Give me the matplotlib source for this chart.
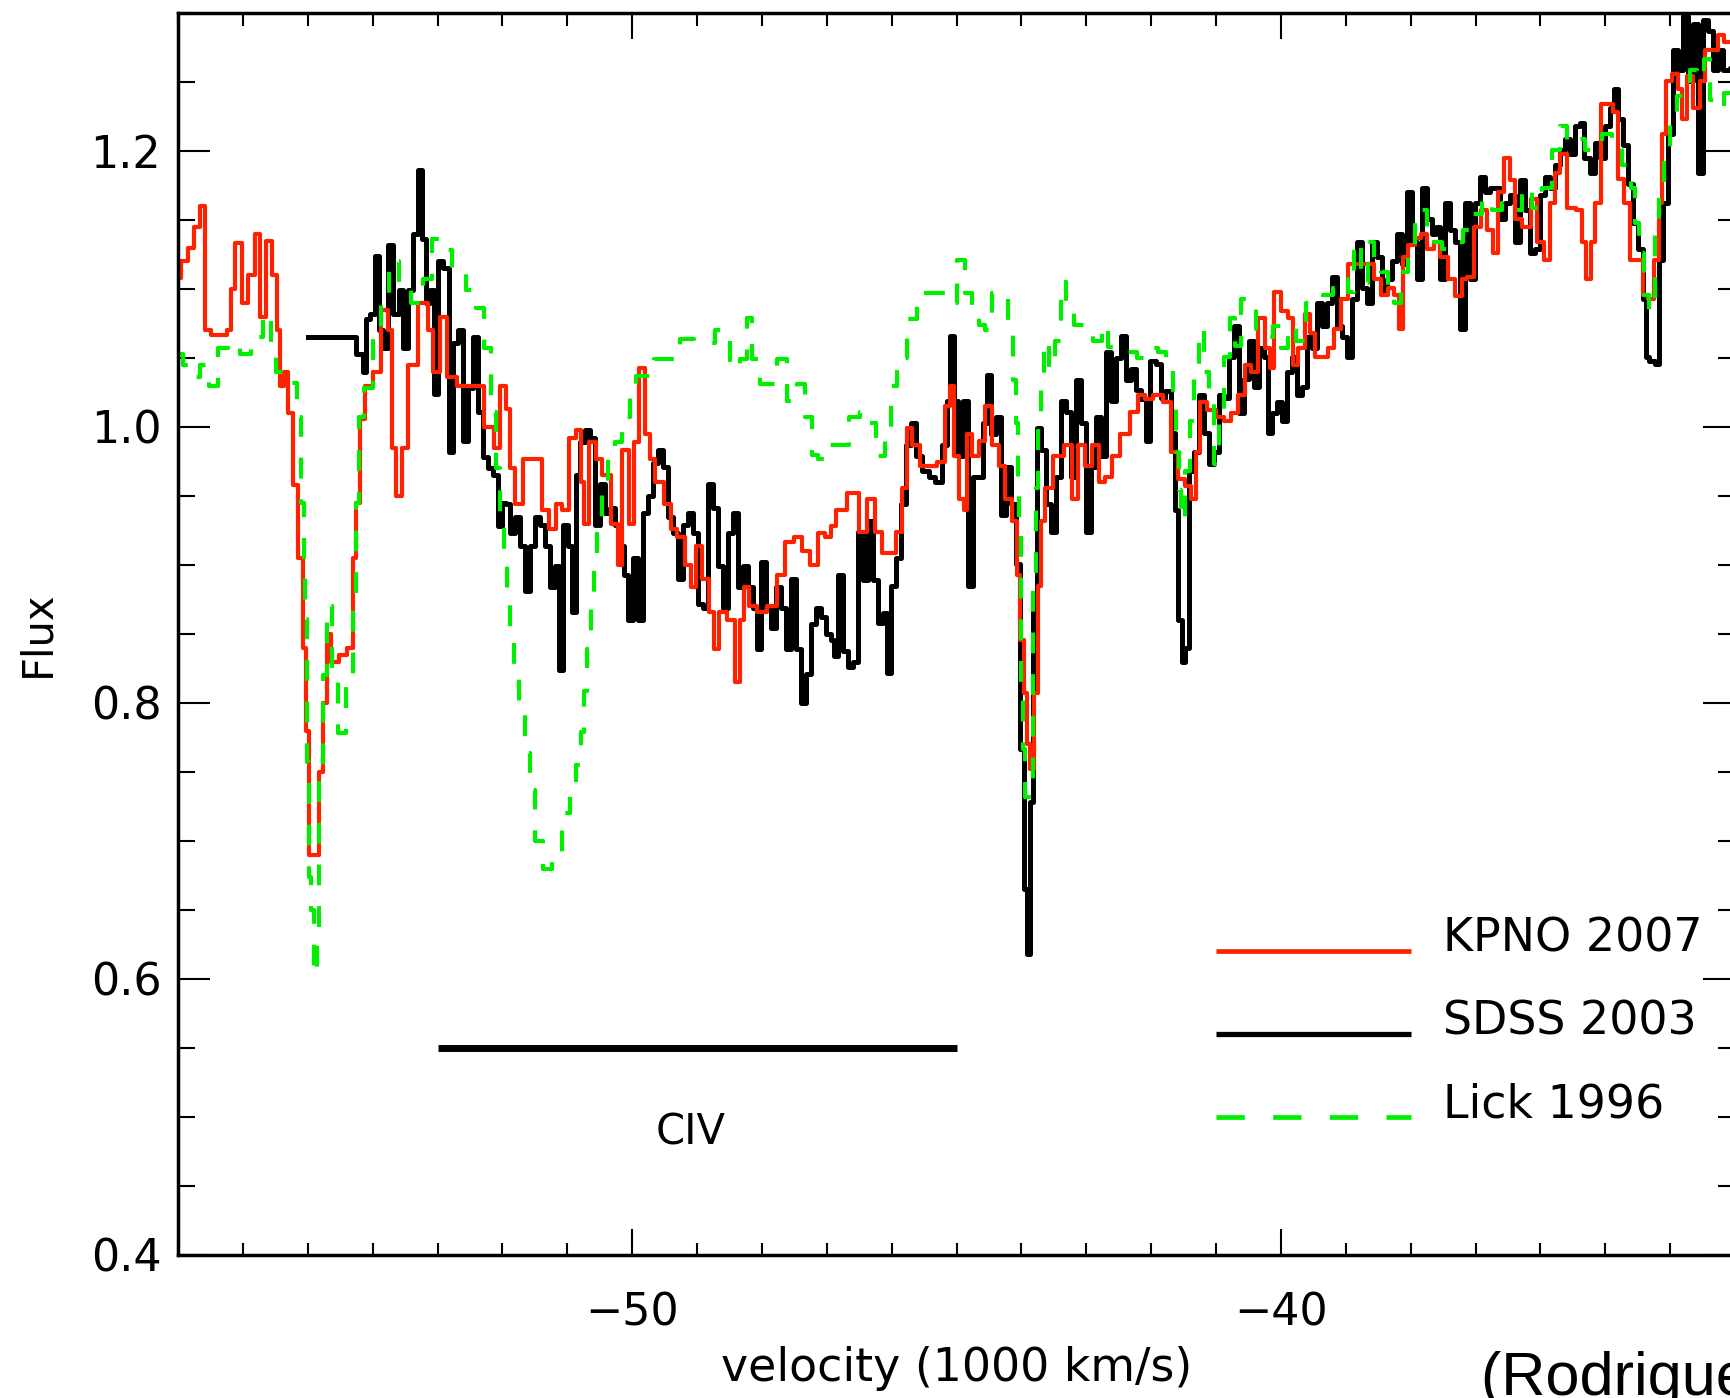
# CIV absorption trough: KPNO 2007 vs SDSS 2003 vs Lick 1996 spectra
import numpy as np
import matplotlib
matplotlib.use("Agg")
import matplotlib.pyplot as plt
from matplotlib.ticker import MultipleLocator, FormatStrFormatter

plt.rcParams['font.family'] = ['DejaVu Sans']

# (velocity in 1000 km/s, normalised flux)
kpno_pts = [
    (-57.0, 1.108), (-56.9, 1.12), (-56.8, 1.13), (-56.7, 1.145), (-56.62, 1.16), (-56.54, 1.07),
    (-56.45, 1.067), (-56.3, 1.067), (-56.2, 1.07), (-56.18, 1.10), (-56.05, 1.133), (-55.97, 1.09),
    (-55.87, 1.11), (-55.77, 1.14), (-55.7, 1.08), (-55.6, 1.135), (-55.5, 1.11), (-55.46, 1.07),
    (-55.4, 1.03), (-55.33, 1.04), (-55.27, 1.01), (-55.2, 0.958), (-55.1, 0.905), (-55.05, 0.84),
    (-55.0, 0.78), (-54.95, 0.69), (-54.85, 0.69), (-54.8, 0.75), (-54.74, 0.80), (-54.67, 0.85),
    (-54.6, 0.83), (-54.45, 0.835), (-54.33, 0.84), (-54.28, 0.905), (-54.23, 0.945), (-54.15, 1.006),
    (-54.08, 1.03), (-53.92, 1.04), (-53.82, 1.085), (-53.72, 1.07), (-53.67, 0.985), (-53.6, 0.95),
    (-53.5, 0.985), (-53.4, 1.045), (-53.2, 1.09), (-53.1, 1.07), (-53.03, 1.04), (-52.9, 1.08),
    (-52.8, 1.036), (-52.6, 1.03), (-52.4, 1.03), (-52.18, 1.0), (-52.08, 0.985), (-51.99, 1.03),
    (-51.9, 1.013), (-51.85, 0.97), (-51.75, 0.944), (-51.6, 0.977), (-51.45, 0.977), (-51.33, 0.94),
    (-51.23, 0.926), (-51.13, 0.944), (-51.02, 0.94), (-50.92, 0.992), (-50.82, 0.998), (-50.77, 0.96),
    (-50.72, 0.93), (-50.61, 0.989), (-50.51, 0.977), (-50.41, 0.965), (-50.25, 0.93), (-50.2, 0.9),
    (-50.1, 0.983), (-50.0, 0.93), (-49.95, 0.989), (-49.84, 1.043), (-49.77, 0.995), (-49.69, 0.977),
    (-49.59, 0.96), (-49.43, 0.944), (-49.38, 0.926), (-49.23, 0.92), (-49.13, 0.9), (-49.07, 0.884),
    (-48.97, 0.914), (-48.87, 0.89), (-48.77, 0.866), (-48.72, 0.839), (-48.61, 0.866), (-48.46, 0.86),
    (-48.38, 0.815), (-48.3, 0.86), (-48.26, 0.884), (-48.15, 0.87), (-48.0, 0.866), (-47.85, 0.87),
    (-47.69, 0.893), (-47.59, 0.917), (-47.43, 0.92), (-47.33, 0.91), (-47.18, 0.9), (-47.08, 0.923),
    (-46.97, 0.92), (-46.91, 0.928), (-46.81, 0.94), (-46.56, 0.952), (-46.45, 0.924), (-46.3, 0.948),
    (-46.2, 0.924), (-46.1, 0.909), (-45.99, 0.909), (-45.89, 0.924), (-45.79, 0.956), (-45.74, 0.999),
    (-45.63, 0.987), (-45.48, 0.972), (-45.38, 0.972), (-45.22, 0.975), (-45.12, 1.015), (-45.07, 1.03),
    (-45.0, 0.979), (-44.92, 0.948), (-44.86, 0.94), (-44.81, 0.995), (-44.71, 0.979), (-44.61, 0.99),
    (-44.5, 1.015), (-44.4, 0.987), (-44.3, 0.972), (-44.2, 0.948), (-44.1, 0.932), (-44.04, 0.893),
    (-43.99, 0.846), (-43.94, 0.807), (-43.89, 0.77), (-43.84, 0.752), (-43.76, 0.807), (-43.73, 0.885),
    (-43.68, 0.932), (-43.58, 0.956), (-43.43, 0.979), (-43.27, 0.987), (-43.17, 0.948), (-43.07, 0.987),
    (-42.97, 0.972), (-42.86, 0.987), (-42.76, 0.96), (-42.66, 0.964), (-42.56, 0.979), (-42.4, 0.995),
    (-42.25, 1.011), (-42.15, 1.023), (-42.05, 1.02), (-41.89, 1.023), (-41.74, 1.018), (-41.64, 0.982),
    (-41.53, 0.962), (-41.43, 0.957), (-41.35, 0.948), (-41.28, 0.982), (-41.2, 1.018), (-41.07, 1.012),
    (-40.92, 1.007), (-40.82, 1.004), (-40.71, 1.01), (-40.61, 1.023), (-40.51, 1.045), (-40.41, 1.04),
    (-40.3, 1.079), (-40.2, 1.057), (-40.15, 1.043), (-40.05, 1.098), (-39.94, 1.084), (-39.84, 1.079),
    (-39.79, 1.045), (-39.69, 1.057), (-39.58, 1.082), (-39.53, 1.068), (-39.43, 1.051), (-39.33, 1.051),
    (-39.23, 1.057), (-39.12, 1.071), (-39.02, 1.093), (-38.92, 1.118), (-38.82, 1.118), (-38.71, 1.118),
    (-38.61, 1.118), (-38.51, 1.107), (-38.41, 1.096), (-38.3, 1.101), (-38.2, 1.096), (-38.15, 1.071),
    (-38.1, 1.123), (-37.99, 1.132), (-37.89, 1.137), (-37.79, 1.14), (-37.69, 1.129), (-37.6, 1.134),
    (-37.48, 1.123), (-37.38, 1.107), (-37.25, 1.095), (-37.18, 1.107), (-37.07, 1.109), (-36.97, 1.145),
    (-36.87, 1.157), (-36.77, 1.143), (-36.69, 1.126), (-36.61, 1.17), (-36.51, 1.195), (-36.43, 1.179),
    (-36.36, 1.151), (-36.2, 1.145), (-36.1, 1.165), (-35.99, 1.134), (-35.89, 1.121), (-35.82, 1.162),
    (-35.74, 1.184), (-35.64, 1.198), (-35.53, 1.159), (-35.38, 1.157), (-35.33, 1.134), (-35.25, 1.107),
    (-35.2, 1.134), (-35.12, 1.162), (-35.02, 1.234), (-34.92, 1.234), (-34.84, 1.228), (-34.77, 1.18),
    (-34.66, 1.162), (-34.59, 1.121), (-34.46, 1.121), (-34.38, 1.096), (-34.3, 1.093), (-34.2, 1.121),
    (-34.15, 1.162), (-34.1, 1.212), (-34.02, 1.251), (-33.92, 1.256), (-33.84, 1.245), (-33.79, 1.223),
    (-33.69, 1.254), (-33.59, 1.231), (-33.48, 1.251), (-33.43, 1.273), (-33.28, 1.273), (-33.23, 1.284),
    (-33.12, 1.279), (-33.0, 1.27),
]

sdss_pts = [
    (-55.0, 1.065), (-54.33, 1.065), (-54.18, 1.053), (-54.13, 1.04), (-54.08, 1.078), (-54.0, 1.082),
    (-53.92, 1.124), (-53.87, 1.07), (-53.8, 1.057), (-53.72, 1.132), (-53.64, 1.082), (-53.56, 1.099),
    (-53.49, 1.057), (-53.41, 1.099), (-53.33, 1.14), (-53.28, 1.186), (-53.2, 1.136), (-53.15, 1.09),
    (-53.08, 1.099), (-53.03, 1.024), (-52.95, 1.12), (-52.87, 1.115), (-52.79, 0.982), (-52.72, 1.061),
    (-52.64, 1.07), (-52.56, 0.99), (-52.49, 1.028), (-52.41, 1.065), (-52.33, 1.011), (-52.26, 0.978),
    (-52.18, 0.97), (-52.1, 0.965), (-52.05, 0.928), (-51.97, 0.945), (-51.92, 0.944), (-51.85, 0.923),
    (-51.77, 0.935), (-51.69, 0.914), (-51.61, 0.881), (-51.54, 0.914), (-51.46, 0.935), (-51.38, 0.929),
    (-51.31, 0.914), (-51.23, 0.884), (-51.15, 0.899), (-51.1, 0.824), (-51.02, 0.929), (-50.95, 0.914),
    (-50.9, 0.866), (-50.84, 0.965), (-50.77, 0.989), (-50.69, 0.998), (-50.61, 0.992), (-50.54, 0.929),
    (-50.46, 0.959), (-50.38, 0.938), (-50.31, 0.941), (-50.23, 0.929), (-50.15, 0.914), (-50.1, 0.893),
    (-50.02, 0.86), (-49.95, 0.905), (-49.87, 0.86), (-49.79, 0.938), (-49.72, 0.95), (-49.64, 0.974),
    (-49.56, 0.983), (-49.49, 0.971), (-49.41, 0.935), (-49.33, 0.923), (-49.26, 0.89), (-49.18, 0.929),
    (-49.1, 0.938), (-49.02, 0.923), (-48.95, 0.872), (-48.87, 0.869), (-48.79, 0.959), (-48.72, 0.941),
    (-48.64, 0.899), (-48.56, 0.869), (-48.49, 0.923), (-48.41, 0.938), (-48.33, 0.884), (-48.26, 0.899),
    (-48.18, 0.884), (-48.1, 0.869), (-48.05, 0.839), (-47.97, 0.902), (-47.9, 0.869), (-47.82, 0.854),
    (-47.74, 0.884), (-47.67, 0.869), (-47.59, 0.839), (-47.51, 0.89), (-47.43, 0.839), (-47.36, 0.80),
    (-47.28, 0.821), (-47.2, 0.857), (-47.13, 0.869), (-47.05, 0.862), (-46.97, 0.85), (-46.91, 0.846),
    (-46.86, 0.834), (-46.79, 0.893), (-46.71, 0.838), (-46.63, 0.826), (-46.56, 0.83), (-46.48, 0.924),
    (-46.4, 0.889), (-46.33, 0.932), (-46.25, 0.889), (-46.17, 0.858), (-46.09, 0.865), (-46.04, 0.822),
    (-45.97, 0.885), (-45.89, 0.905), (-45.81, 0.944), (-45.74, 0.987), (-45.66, 1.003), (-45.58, 0.979),
    (-45.48, 0.968), (-45.38, 0.964), (-45.27, 0.96), (-45.17, 0.987), (-45.12, 1.019), (-45.07, 1.066),
    (-45.02, 1.019), (-44.94, 0.979), (-44.86, 1.019), (-44.79, 0.885), (-44.71, 0.964), (-44.63, 0.964),
    (-44.56, 1.003), (-44.5, 1.038), (-44.43, 0.995), (-44.35, 1.007), (-44.27, 0.936), (-44.2, 0.971),
    (-44.12, 0.944), (-44.04, 0.901), (-43.99, 0.767), (-43.94, 0.665), (-43.89, 0.618), (-43.84, 0.728),
    (-43.79, 0.873), (-43.73, 0.999), (-43.66, 0.983), (-43.58, 0.944), (-43.5, 0.924), (-43.43, 0.964),
    (-43.35, 1.019), (-43.27, 1.011), (-43.2, 0.964), (-43.12, 1.034), (-43.04, 1.003), (-42.97, 0.924),
    (-42.89, 0.971), (-42.81, 1.007), (-42.74, 0.979), (-42.66, 1.054), (-42.58, 1.019), (-42.5, 1.05),
    (-42.43, 1.066), (-42.35, 1.034), (-42.27, 1.042), (-42.2, 1.027), (-42.12, 1.02), (-42.05, 0.99),
    (-41.97, 1.048), (-41.89, 1.046), (-41.82, 1.021), (-41.74, 1.026), (-41.66, 0.996), (-41.61, 0.94),
    (-41.56, 0.86), (-41.5, 0.83), (-41.45, 0.84), (-41.38, 0.968), (-41.3, 0.982), (-41.23, 1.023),
    (-41.15, 0.996), (-41.07, 0.973), (-40.99, 0.982), (-40.92, 1.023), (-40.84, 1.021), (-40.76, 1.051),
    (-40.69, 1.073), (-40.61, 1.01), (-40.53, 1.035), (-40.46, 1.062), (-40.38, 1.029), (-40.3, 1.057),
    (-40.23, 1.051), (-40.17, 0.996), (-40.1, 1.01), (-40.02, 1.018), (-39.94, 1.004), (-39.87, 1.04),
    (-39.79, 1.051), (-39.71, 1.023), (-39.64, 1.029), (-39.56, 1.065), (-39.48, 1.057), (-39.41, 1.09),
    (-39.33, 1.073), (-39.25, 1.09), (-39.17, 1.109), (-39.1, 1.073), (-39.02, 1.065), (-38.94, 1.051),
    (-38.87, 1.093), (-38.79, 1.134), (-38.71, 1.101), (-38.64, 1.09), (-38.56, 1.134), (-38.48, 1.123),
    (-38.41, 1.098), (-38.33, 1.107), (-38.25, 1.12), (-38.17, 1.14), (-38.1, 1.118), (-38.02, 1.17),
    (-37.94, 1.134), (-37.87, 1.107), (-37.79, 1.173), (-37.71, 1.151), (-37.64, 1.14), (-37.59, 1.145),
    (-37.51, 1.107), (-37.43, 1.162), (-37.36, 1.143), (-37.28, 1.134), (-37.2, 1.071), (-37.12, 1.162),
    (-37.05, 1.107), (-36.97, 1.162), (-36.89, 1.181), (-36.82, 1.17), (-36.74, 1.173), (-36.66, 1.173),
    (-36.59, 1.151), (-36.51, 1.162), (-36.43, 1.168), (-36.36, 1.134), (-36.28, 1.179), (-36.2, 1.157),
    (-36.12, 1.126), (-36.05, 1.129), (-35.97, 1.168), (-35.89, 1.181), (-35.82, 1.173), (-35.74, 1.19),
    (-35.66, 1.201), (-35.59, 1.209), (-35.51, 1.198), (-35.43, 1.218), (-35.36, 1.22), (-35.28, 1.195),
    (-35.2, 1.184), (-35.12, 1.206), (-35.05, 1.195), (-34.97, 1.218), (-34.89, 1.231), (-34.84, 1.245),
    (-34.77, 1.223), (-34.69, 1.204), (-34.61, 1.176), (-34.54, 1.148), (-34.46, 1.129), (-34.38, 1.093),
    (-34.36, 1.051), (-34.28, 1.048), (-34.2, 1.046), (-34.15, 1.121), (-34.07, 1.162), (-34.0, 1.212),
    (-33.92, 1.273), (-33.84, 1.259), (-33.77, 1.298), (-33.69, 1.251), (-33.61, 1.292), (-33.54, 1.184),
    (-33.46, 1.295), (-33.38, 1.287), (-33.3, 1.259), (-33.23, 1.273), (-33.15, 1.259), (-33.0, 1.26),
]

lick_pts = [
    (-57.0, 1.053), (-56.85, 1.045), (-56.72, 1.036), (-56.59, 1.045), (-56.44, 1.03), (-56.33, 1.057),
    (-56.13, 1.061), (-55.97, 1.053), (-55.77, 1.065), (-55.62, 1.082), (-55.51, 1.061), (-55.46, 1.04),
    (-55.31, 1.04), (-55.2, 1.032), (-55.13, 1.007), (-55.08, 0.945), (-55.05, 0.903), (-55.03, 0.861),
    (-55.0, 0.757), (-54.97, 0.674), (-54.93, 0.65), (-54.88, 0.603), (-54.84, 0.632), (-54.8, 0.745),
    (-54.74, 0.82), (-54.67, 0.87), (-54.59, 0.82), (-54.49, 0.778), (-54.33, 0.82), (-54.28, 0.878),
    (-54.23, 0.945), (-54.18, 1.007), (-54.08, 1.028), (-53.92, 1.07), (-53.82, 1.095), (-53.67, 1.12),
    (-53.51, 1.099), (-53.31, 1.09), (-53.15, 1.107), (-53.03, 1.136), (-52.9, 1.128), (-52.64, 1.115),
    (-52.49, 1.099), (-52.33, 1.086), (-52.23, 1.057), (-52.13, 1.011), (-52.08, 0.97), (-52.0, 0.936),
    (-51.95, 0.9), (-51.9, 0.881), (-51.85, 0.851), (-51.79, 0.821), (-51.69, 0.794), (-51.61, 0.764),
    (-51.54, 0.737), (-51.45, 0.70), (-51.31, 0.68), (-51.15, 0.69), (-51.0, 0.72), (-50.9, 0.74),
    (-50.82, 0.755), (-50.77, 0.779), (-50.72, 0.809), (-50.67, 0.839), (-50.61, 0.869), (-50.56, 0.899),
    (-50.51, 0.929), (-50.41, 0.953), (-50.33, 0.983), (-50.2, 0.989), (-50.1, 1.007), (-49.97, 1.025),
    (-49.9, 1.037), (-49.74, 1.037), (-49.59, 1.049), (-49.38, 1.049), (-49.13, 1.064), (-48.97, 1.061),
    (-48.87, 1.061), (-48.56, 1.07), (-48.41, 1.043), (-48.26, 1.049), (-48.2, 1.079), (-48.1, 1.049),
    (-47.95, 1.031), (-47.85, 1.031), (-47.69, 1.049), (-47.54, 1.019), (-47.38, 1.031), (-47.28, 1.007),
    (-47.18, 0.98), (-47.08, 0.977), (-46.91, 0.987), (-46.76, 0.987), (-46.56, 1.007), (-46.4, 1.011),
    (-46.3, 1.003), (-46.17, 0.979), (-46.04, 0.995), (-45.99, 1.03), (-45.84, 1.05), (-45.68, 1.078),
    (-45.53, 1.097), (-45.38, 1.097), (-45.22, 1.097), (-45.07, 1.09), (-44.92, 1.121), (-44.81, 1.097),
    (-44.71, 1.081), (-44.61, 1.074), (-44.5, 1.07), (-44.4, 1.097), (-44.25, 1.097), (-44.15, 1.074),
    (-44.1, 1.034), (-44.07, 1.003), (-44.04, 0.964), (-44.02, 0.924), (-43.99, 0.807), (-43.97, 0.767),
    (-43.92, 0.732), (-43.84, 0.732), (-43.79, 0.885), (-43.76, 0.956), (-43.73, 1.003), (-43.68, 1.038),
    (-43.63, 1.062), (-43.53, 1.042), (-43.43, 1.062), (-43.35, 1.105), (-43.27, 1.085), (-43.12, 1.074),
    (-42.97, 1.074), (-42.81, 1.062), (-42.71, 1.074), (-42.61, 1.058), (-42.45, 1.054), (-42.3, 1.054),
    (-42.15, 1.05), (-42.04, 1.057), (-41.94, 1.057), (-41.84, 1.054), (-41.69, 1.048), (-41.64, 1.018),
    (-41.58, 0.982), (-41.56, 0.954), (-41.53, 0.932), (-41.43, 0.968), (-41.38, 1.004), (-41.3, 1.04),
    (-41.23, 1.071), (-41.15, 1.04), (-41.07, 1.023), (-40.99, 0.973), (-40.92, 1.007), (-40.82, 1.051),
    (-40.76, 1.079), (-40.66, 1.059), (-40.56, 1.093), (-40.46, 1.09), (-40.3, 1.071), (-40.2, 1.065),
    (-40.05, 1.073), (-39.94, 1.057), (-39.84, 1.073), (-39.69, 1.062), (-39.53, 1.09), (-39.43, 1.093),
    (-39.28, 1.096), (-39.12, 1.101), (-39.02, 1.107), (-38.92, 1.098), (-38.82, 1.134), (-38.71, 1.104),
    (-38.61, 1.134), (-38.51, 1.12), (-38.41, 1.112), (-38.3, 1.098), (-38.2, 1.09), (-38.1, 1.112),
    (-37.99, 1.129), (-37.89, 1.151), (-37.79, 1.157), (-37.69, 1.145), (-37.59, 1.134), (-37.43, 1.129),
    (-37.28, 1.134), (-37.12, 1.143), (-36.97, 1.154), (-36.82, 1.165), (-36.66, 1.157), (-36.51, 1.162),
    (-36.36, 1.157), (-36.2, 1.173), (-36.05, 1.159), (-35.89, 1.173), (-35.74, 1.201), (-35.64, 1.218),
    (-35.53, 1.206), (-35.38, 1.209), (-35.23, 1.201), (-35.12, 1.204), (-34.97, 1.212), (-34.82, 1.206),
    (-34.66, 1.19), (-34.56, 1.173), (-34.51, 1.148), (-34.46, 1.126), (-34.36, 1.096), (-34.28, 1.084),
    (-34.2, 1.145), (-34.15, 1.176), (-34.05, 1.195), (-33.94, 1.223), (-33.84, 1.24), (-33.74, 1.251),
    (-33.64, 1.259), (-33.54, 1.253), (-33.43, 1.267), (-33.33, 1.237), (-33.23, 1.231), (-33.12, 1.242),
    (-33.0, 1.24),
]

# CIV trough marker and legend entries
civ_range = (-53.0, -45.0)
civ_level = 0.55
labels = ['KPNO 2007', 'SDSS 2003', 'Lick 1996']
legend_levels = [0.62, 0.56, 0.50]

kpno_v, kpno_f = np.array(kpno_pts).T
sdss_v, sdss_f = np.array(sdss_pts).T
lick_v, lick_f = np.array(lick_pts).T

red = '#ff2200'
green = '#00ee00'

fig = plt.figure(figsize=(17.31, 13.98), dpi=100)
# the right spine sits just past the cropped edge of the original
ax = fig.add_axes([178 / 1731, 1 - 1255 / 1398, (1735 - 178) / 1731, (1255 - 13) / 1398])

ax.plot(sdss_v, sdss_f, color='black', lw=3.6, drawstyle='steps-mid')
ax.plot(kpno_v, kpno_f, color=red, lw=3.0, drawstyle='steps-mid')
ax.plot(lick_v, lick_f, color=green, lw=3.0, drawstyle='steps-mid', dashes=(5, 5))

# CIV bar
ax.plot(civ_range, [civ_level, civ_level], color='black', lw=5, solid_capstyle='butt')
ax.text(np.mean(civ_range) - 0.1, 0.489, 'CIV', fontsize=30, ha='center', va='center')

# hand made legend like the IDL original
styles = [dict(color=red, lw=3.4), dict(color='black', lw=3.8), dict(color=green, lw=3.4, dashes=(6, 6))]
for lab, lev, st in zip(labels, legend_levels, styles):
    ax.plot([-41.0, -38.0], [lev, lev], solid_capstyle='butt', **st)
    ax.text(-37.5, lev, lab, fontsize=33, ha='left', va='baseline')

ax.set_xlim(-57, -33)
ax.set_ylim(0.4, 1.3)

ax.xaxis.set_major_locator(MultipleLocator(10))
ax.xaxis.set_minor_locator(MultipleLocator(1))
ax.yaxis.set_major_locator(MultipleLocator(0.2))
ax.yaxis.set_minor_locator(MultipleLocator(0.05))
ax.yaxis.set_major_formatter(FormatStrFormatter('%.1f'))

ax.tick_params(which='both', direction='in', top=True, right=True, width=1.5, labelsize=32)
ax.tick_params(axis='x', which='major', length=19, pad=26)
ax.tick_params(axis='x', which='minor', length=9)
ax.tick_params(axis='y', which='major', length=23, pad=12)
ax.tick_params(axis='y', which='minor', length=12)
for sp in ax.spines.values():
    sp.set_linewidth(2.5)

ax.set_xlabel('velocity (1000 km/s)', fontsize=33)
ax.xaxis.set_label_coords(0.5, -0.073)
ax.set_ylabel('Flux', fontsize=30)
ax.yaxis.set_label_coords(-0.077, 0.5)

# citation, cut off by the edge in the original slide
fig.text(1481 / 1731, 0.002, '(Rodriguez Hidalgo et al. 2011)', fontsize=44,
         family='Liberation Sans', ha='left', va='baseline')

fig.savefig('out.png', dpi=100)
